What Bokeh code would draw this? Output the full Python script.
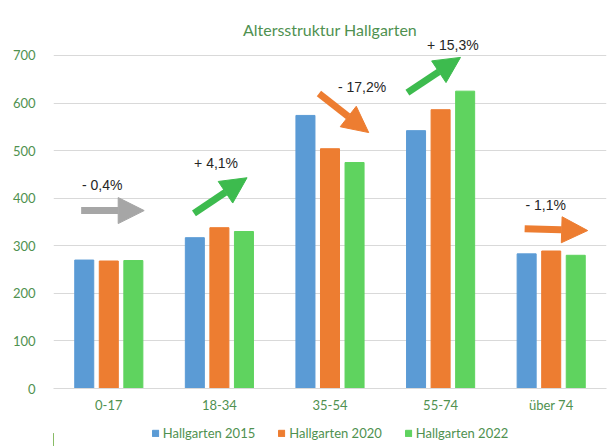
import numpy as np
from bokeh.plotting import figure
from bokeh.layouts import column
from bokeh.models import (ColumnDataSource, Range1d, FixedTicker, Legend, LegendItem,
                          Arrow, NormalHead, LabelSet)
from bokeh.core.properties import value
from bokeh.transform import dodge
from bokeh.embed import file_html
from bokeh.resources import INLINE

# ---- data ----
categories = ["0-17", "18-34", "35-54", "55-74", "über 74"]
series_names = ["Hallgarten 2015", "Hallgarten 2020", "Hallgarten 2022"]
values_2015 = [270, 317, 574, 542, 283]
values_2020 = [268, 338, 504, 586, 289]
values_2022 = [269, 330, 475, 625, 280]
y_ticks = [0, 100, 200, 300, 400, 500, 600, 700]

# change annotations (label text, arrow from/to in data units)
change_labels = ["- 0,4%", "+ 4,1%", "- 17,2%", "+ 15,3%", "- 1,1%"]
label_x = [0.44, 1.47, 2.79, 3.61, 4.45]
label_y = [427, 473, 633, 721, 385]
arrow_x0 = [0.25, 1.27, 2.40, 3.20, 4.26]
arrow_y0 = [374, 368, 620, 622, 336]
arrow_x1 = [0.82, 1.75, 2.85, 3.68, 4.83]
arrow_y1 = [374, 443, 538, 696, 332]
arrow_colors = ["#a6a6a6", "#3dbb4e", "#ed7d31", "#3dbb4e", "#ed7d31"]

colors = ["#5b9bd5", "#ed7d31", "#5fd35f"]
text_green = "#4f9150"

x_pos = list(np.arange(len(categories)) + 0.5)
source = ColumnDataSource(dict(x=x_pos, v2015=values_2015, v2020=values_2020, v2022=values_2022))

p = figure(width=608, height=420, output_backend="svg", toolbar_location=None,
           x_range=Range1d(0, len(categories)), y_range=Range1d(0, 735.7),
           title="Altersstruktur Hallgarten", min_border_right=2, min_border_left=53,
           min_border_bottom=32, min_border_top=38)

p.title.align = "center"
p.title.offset = -14
p.title.standoff = 0
p.title.text_font = "Lato"
p.title.text_font_size = "16px"
p.title.text_font_style = "normal"
p.title.text_color = text_green

width = 0.172
off = 0.222
p.vbar(x=dodge("x", -off), top="v2015", width=width, source=source, color=colors[0])
p.vbar(x=dodge("x", 0), top="v2020", width=width, source=source, color=colors[1])
p.vbar(x=dodge("x", off), top="v2022", width=width, source=source, color=colors[2])

# axes
p.xaxis.ticker = FixedTicker(ticks=x_pos)
p.xaxis.major_label_overrides = {x: c for x, c in zip(x_pos, categories)}
p.yaxis.ticker = FixedTicker(ticks=y_ticks)
for ax in (p.xaxis[0], p.yaxis[0]):
    ax.major_tick_line_color = None
    ax.minor_tick_line_color = None
    ax.major_label_text_font = "Lato"
    ax.major_label_text_font_size = "13px"
    ax.major_label_text_color = text_green
p.yaxis.axis_line_color = None
p.yaxis.major_label_standoff = 12
p.xaxis.axis_line_color = "#d9d9d9"
p.xaxis.major_label_standoff = 2

p.xgrid.grid_line_color = None
p.ygrid.grid_line_color = "#d9d9d9"
p.ygrid.ticker = FixedTicker(ticks=y_ticks)
p.outline_line_color = None

# arrows
for i in range(len(change_labels)):
    head = NormalHead(size=26, fill_color=arrow_colors[i], line_color=arrow_colors[i])
    p.add_layout(Arrow(end=head, x_start=arrow_x0[i], y_start=arrow_y0[i],
                       x_end=arrow_x1[i], y_end=arrow_y1[i],
                       line_color=arrow_colors[i], line_width=7))

lab_src = ColumnDataSource(dict(x=label_x, y=label_y, t=change_labels))
p.add_layout(LabelSet(x="x", y="y", text="t", source=lab_src, text_align="center",
                      text_baseline="middle", text_font=value("Liberation Sans"),
                      text_font_size=value("14px"), text_color=value("#262626")))

# legend strip below the chart (proxy renderers lie outside the visible range)
leg = figure(width=608, height=26, output_backend="svg", toolbar_location=None,
             x_range=Range1d(0, 1), y_range=Range1d(0, 1),
             x_axis_type=None, y_axis_type=None, min_border=0, min_border_left=31)
leg.outline_line_color = None
items = []
for name, c in zip(series_names, colors):
    r = leg.vbar(x=[-5], top=[0.5], width=0.1, color=c)
    items.append(LegendItem(label=name, renderers=[r]))
legend = Legend(items=items, orientation="horizontal", location="center",
                glyph_width=8, glyph_height=8, label_standoff=4, spacing=22,
                padding=0, margin=0, border_line_color=None, background_fill_alpha=0,
                label_text_font="Lato", label_text_font_size="13px",
                label_text_color=text_green, label_height=20)
leg.add_layout(legend)

layout = column(p, leg, spacing=0)
open("out.html", "w").write(file_html(layout, INLINE))
